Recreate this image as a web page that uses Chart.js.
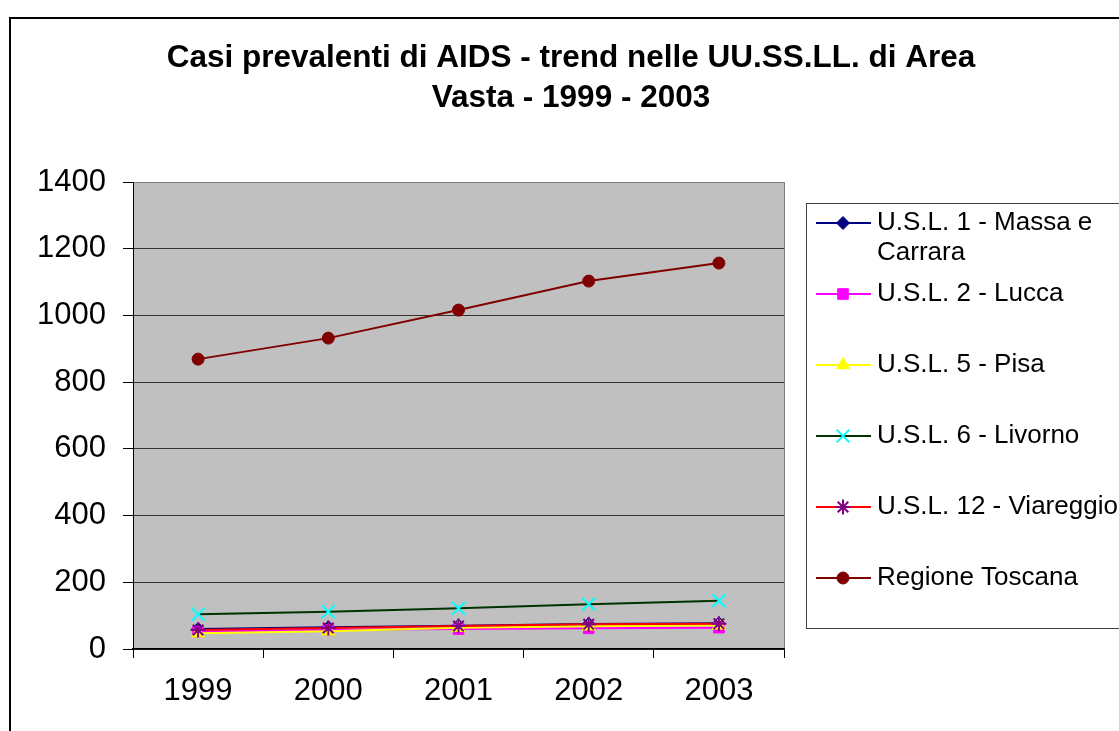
<!DOCTYPE html>
<html>
<head>
<meta charset="utf-8">
<title>Casi prevalenti di AIDS - trend nelle UU.SS.LL. di Area Vasta</title>
<script src="https://cdn.jsdelivr.net/npm/chart.js"></script>
<style>
  html, body { margin: 0; padding: 0; background: #fff; overflow: hidden; }
  #wrap { width: 1119px; height: 731px; }
</style>
</head>
<body>
<div id="wrap"><canvas id="aidsChart" width="1119" height="731"></canvas></div>
<script>
// anni e casi prevalenti per USL
const years = ["1999", "2000", "2001", "2002", "2003"];
const yTicks = [0, 200, 400, 600, 800, 1000, 1200, 1400];
const titleLines = ["Casi prevalenti di AIDS - trend nelle UU.SS.LL. di Area", "Vasta - 1999 - 2003"];

const massaCarrara = [60, 65, 70, 75, 77];
const lucca = [52, 58, 60, 62, 64];
const pisa = [47, 53, 64, 68, 71];
const livorno = [104, 112, 122, 134, 145];
const viareggio = [57, 63, 69, 74, 76];
const toscana = [869, 932, 1016, 1103, 1157];

const FONT = "Arial, 'Liberation Sans', sans-serif";
Chart.defaults.font.family = FONT;
Chart.defaults.color = "#000";

function serie(label, data, line, style, fill, stroke, radius, order, bw) {
    return {
        label: label,
        data: data,
        borderColor: line,
        borderWidth: 2,
        tension: 0,
        fill: false,
        pointStyle: style,
        pointRadius: radius,
        pointBackgroundColor: fill,
        pointBorderColor: stroke,
        pointBorderWidth: bw || 1,
        order: order
    };
}

// sfondo grigio dell'area del grafico e cornice esterna
const plotFrame = {
    id: "plotFrame",
    beforeDraw(chart) {
        const ctx = chart.ctx;
        const a = chart.chartArea;
        ctx.save();
        ctx.fillStyle = "#fff";
        ctx.fillRect(0, 0, chart.width, chart.height);
        ctx.strokeStyle = "#000";
        ctx.lineWidth = 2;
        ctx.strokeRect(10, 18, chart.width + 50, chart.height + 50);
        ctx.fillStyle = "#C0C0C0";
        ctx.fillRect(a.left, a.top, a.right - a.left, a.bottom - a.top);
        ctx.strokeStyle = "#808080";
        ctx.lineWidth = 1;
        ctx.beginPath();
        ctx.moveTo(a.right + 0.5, a.top);
        ctx.lineTo(a.right + 0.5, a.bottom);
        ctx.stroke();
        ctx.restore();
    }
};

// legenda a destra, con testo che va a capo
const sideLegend = {
    id: "sideLegend",
    afterDraw(chart) {
        const ctx = chart.ctx;
        const boxLeft = 806, boxTop = 203, boxBottom = 628;
        const rowStart = 223, rowStep = 71, lineStep = 30;
        const maxText = 245;
        ctx.save();
        ctx.strokeStyle = "#404040";
        ctx.lineWidth = 1;
        ctx.strokeRect(boxLeft + 0.5, boxTop + 0.5, 400, boxBottom - boxTop);
        ctx.font = "26px " + FONT;
        ctx.textBaseline = "middle";
        ctx.textAlign = "left";
        chart.data.datasets.forEach((ds, i) => {
            const y = rowStart + i * rowStep;
            ctx.strokeStyle = ds.borderColor;
            ctx.lineWidth = 2;
            ctx.beginPath();
            ctx.moveTo(816, y);
            ctx.lineTo(871, y);
            ctx.stroke();
            ctx.fillStyle = ds.pointBackgroundColor;
            ctx.strokeStyle = ds.pointBorderColor;
            ctx.lineWidth = ds.pointBorderWidth;
            Chart.helpers.drawPoint(ctx, {
                pointStyle: ds.pointStyle,
                radius: ds.pointRadius,
                rotation: 0,
                borderWidth: ds.pointBorderWidth
            }, 843, y);

            // a capo parola per parola
            const words = ds.label.split(" ");
            const lines = [];
            let cur = "";
            words.forEach(w => {
                const test = cur ? cur + " " + w : w;
                if (cur && ctx.measureText(test).width > maxText) {
                    lines.push(cur);
                    cur = w;
                } else {
                    cur = test;
                }
            });
            lines.push(cur);
            ctx.fillStyle = "#000";
            lines.forEach((t, k) => ctx.fillText(t, 877, y + k * lineStep));
        });
        ctx.restore();
    }
};

new Chart(document.getElementById("aidsChart"), {
    type: "line",
    data: {
        labels: years,
        datasets: [
            serie("U.S.L. 1 - Massa e Carrara", massaCarrara, "#000080", "rectRot", "#000080", "#000080", 6.5, 6),
            serie("U.S.L. 2 - Lucca", lucca, "#FF00FF", "rect", "#FF00FF", "#FF00FF", 7.5, 5),
            serie("U.S.L. 5 - Pisa", pisa, "#FFFF00", "triangle", "#FFFF00", "#FFFF00", 7.5, 4),
            serie("U.S.L. 6 - Livorno", livorno, "#003300", "crossRot", "#00FFFF", "#00FFFF", 9, 3, 2),
            serie("U.S.L. 12 - Viareggio", viareggio, "#FF0000", "star", "#800080", "#800080", 7.5, 2, 2),
            serie("Regione Toscana", toscana, "#800000", "circle", "#800000", "#800000", 6, 1)
        ]
    },
    options: {
        responsive: false,
        animation: false,
        layout: { padding: { left: 23, top: 0, right: 0, bottom: 0 } },
        plugins: {
            legend: { display: false },
            tooltip: { enabled: false },
            title: {
                display: true,
                text: titleLines,
                color: "#000",
                font: { size: 31.5, weight: "bold", lineHeight: 1.27 },
                padding: { top: 38, bottom: 64 }
            }
        },
        scales: {
            x: {
                offset: true,
                grid: { offset: true, drawOnChartArea: false, drawTicks: true, tickLength: 9, color: "#000" },
                border: { color: "#000", width: 1.5 },
                ticks: { color: "#000", font: { size: 31 }, padding: 15, maxRotation: 0, autoSkip: false },
                afterFit: s => { s.height = 82; }
            },
            y: {
                min: 0,
                max: 1400,
                afterBuildTicks: s => { s.ticks = yTicks.map(v => ({ value: v })); },
                grid: {
                    color: c => (c.tick && c.tick.value === 1400 ? "#808080" : "#333"),
                    tickColor: "#000",
                    tickLength: 10,
                    lineWidth: 1
                },
                border: { color: "#000", width: 1 },
                ticks: { color: "#000", font: { size: 31 }, padding: 17, callback: v => String(v) },
                afterFit: s => { s.width = 110; }
            },
            // spazio riservato alla legenda
            spazioLegenda: {
                type: "linear",
                position: "right",
                display: true,
                grid: { display: false },
                ticks: { display: false },
                border: { display: false },
                afterFit: s => { s.width = 335; }
            }
        }
    },
    plugins: [plotFrame, sideLegend]
});
</script>
</body>
</html>
